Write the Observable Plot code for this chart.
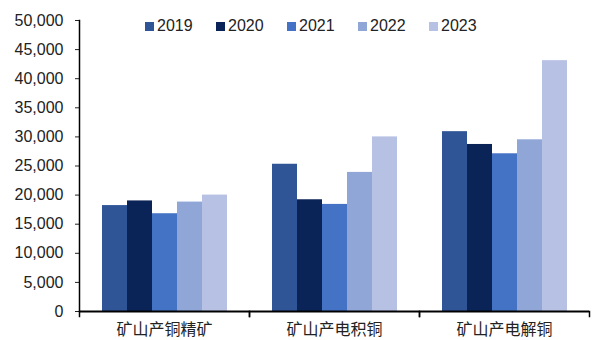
<!DOCTYPE html>
<html>
<head>
<meta charset="utf-8">
<script src="https://cdn.jsdelivr.net/npm/d3@7"></script>
<script src="https://cdn.jsdelivr.net/npm/@observablehq/plot@0.6"></script>
<style>
  body { margin: 0; background: #fff; }
  #wrap { position: relative; width: 592px; height: 340px; font-family: "Liberation Sans", Arial, "Noto Sans CJK SC", sans-serif; }
  #legend { position: absolute; top: 17px; left: 145px; display: flex; font-size: 16px; color: #222; }
  .item { display: flex; align-items: center; width: 71px; }
  .sw { width: 9px; height: 9px; margin-right: 3px; }
</style>
</head>
<body>
<div id="wrap"><div id="legend"></div></div>
<script>
const categories = ["矿山产铜精矿", "矿山产电积铜", "矿山产电解铜"];
const years = ["2019", "2020", "2021", "2022", "2023"];
const colors = ["#2F5597", "#0B2457", "#4472C4", "#8FA6D7", "#B7C1E3"];
const v2019 = [18200, 25300, 30900];
const v2020 = [19000, 19200, 28700];
const v2021 = [16800, 18400, 27100];
const v2022 = [18800, 23900, 29500];
const v2023 = [20000, 30000, 43100];
const yTicks = [0, 5000, 10000, 15000, 20000, 25000, 30000, 35000, 40000, 45000, 50000];

const series = [v2019, v2020, v2021, v2022, v2023];
const data = [];
categories.forEach((c, i) => years.forEach((y, j) => data.push({cat: c, year: y, value: series[j][i]})));

const chart = Plot.plot({
  width: 592,
  height: 340,
  marginLeft: 78,
  marginRight: 3,
  marginTop: 20,
  marginBottom: 29,
  style: {fontFamily: '"Liberation Sans", Arial, "Noto Sans CJK SC", sans-serif', fontSize: "16px", color: "#222", background: "#fff"},
  fx: {domain: categories, padding: 0, label: null, tickSize: 0, tickPadding: 12},
  x: {domain: years, paddingInner: 0, paddingOuter: 0.77, axis: null},
  y: {domain: [0, 50000], ticks: yTicks, tickFormat: d3.format(","), tickSize: 4, tickPadding: 12, label: null},
  color: {domain: years, range: colors},
  marks: [
    Plot.barY(data, {fx: "cat", x: "year", y: "value", fill: "year"}),
    Plot.frame({anchor: "left", stroke: "#000", strokeWidth: 1.5, facet: "super"}),
    Plot.frame({anchor: "left", stroke: "#000", strokeWidth: 1.5, insetTop: 291, insetBottom: -5}),
    Plot.frame({anchor: "right", stroke: "#000", strokeWidth: 1.5, insetTop: 291, insetBottom: -5}),
    Plot.ruleY([0], {stroke: "#000", strokeWidth: 2})
  ]
});
const wrap = document.getElementById("wrap");
wrap.appendChild(chart);

const legend = document.getElementById("legend");
years.forEach((y, i) => {
  const it = document.createElement("div");
  it.className = "item";
  it.innerHTML = `<div class="sw" style="background:${colors[i]}"></div><span>${y}</span>`;
  legend.appendChild(it);
});
</script>
</body>
</html>
